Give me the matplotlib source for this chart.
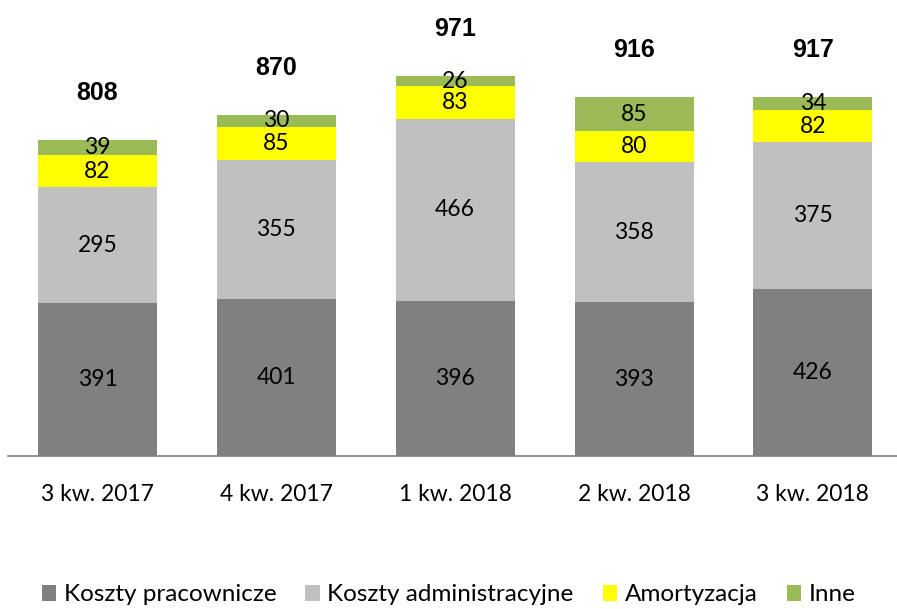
import matplotlib
matplotlib.use("Agg")
from matplotlib import pyplot as plt
import numpy as np

categories = ["3 kw. 2017", "4 kw. 2017", "1 kw. 2018", "2 kw. 2018", "3 kw. 2018"]
koszty_pracownicze = [391, 401, 396, 393, 426]
koszty_administracyjne = [295, 355, 466, 358, 375]
amortyzacja = [82, 85, 83, 80, 82]
inne = [39, 30, 26, 85, 34]
totals = [808, 870, 971, 916, 917]

series = [
    ("Koszty pracownicze", koszty_pracownicze, "#808080"),
    ("Koszty administracyjne", koszty_administracyjne, "#c0c0c0"),
    ("Amortyzacja", amortyzacja, "#ffff00"),
    ("Inne", inne, "#9bbb59"),
]

plt.rcParams["font.family"] = ["Lato", "DejaVu Sans"]

fig = plt.figure(figsize=(8.97, 6.09), dpi=100)
ax = fig.add_axes([8 / 897, 1 - 456 / 609, 1 - 8 / 897, 456 / 609])

x = np.arange(len(categories))
bottom = np.zeros(len(categories))
for name, vals, color in series:
    vals = np.array(vals)
    ax.bar(x, vals, width=0.665, bottom=bottom, color=color, label=name)
    for xi, b, v in zip(x, bottom, vals):
        ax.text(xi, b + v / 2, str(v), ha="center", va="center", fontsize=16.5, color="black")
    bottom += vals

for xi, t, b in zip(x, totals, bottom):
    ax.text(xi, b + 120, str(t), ha="center", va="center", fontsize=18,
            fontweight="bold", family=["Liberation Sans", "DejaVu Sans"])

ax.set_xlim(-0.5, 4.47)
ax.set_ylim(0, 1165)
ax.set_xticks(x)
ax.set_xticklabels(categories, fontsize=16.5)
ax.tick_params(axis="x", length=0, pad=20)
ax.set_yticks([])
for side in ["top", "right", "left"]:
    ax.spines[side].set_visible(False)
ax.spines["bottom"].set_color("#808080")
ax.spines["bottom"].set_linewidth(1.2)

fig.legend(loc="lower center", bbox_to_anchor=(0.5, -0.03), ncol=4, frameon=False,
           fontsize=17.5, handlelength=0.6, handleheight=0.6, handletextpad=0.3,
           columnspacing=1.2)

fig.savefig("out.png", dpi=100)
